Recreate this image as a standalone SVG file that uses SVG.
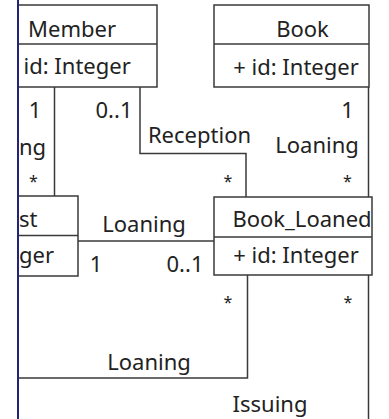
<svg xmlns="http://www.w3.org/2000/svg" width="389" height="419" viewBox="0 0 389 419">
<style>
.box{fill:#ffffff;stroke:#3a3a3a;stroke-width:1.5}
.ln{fill:none;stroke:#3a3a3a;stroke-width:1.5}
text{font-family:"Noto Sans","Open Sans","DejaVu Sans",sans-serif;font-size:22px;fill:#222222}
.m{text-anchor:middle}
.s{font-size:16px}
</style>
<rect width="389" height="419" fill="#ffffff"/>
<g id="connectors">
<path class="ln" d="M54.5 87 V196"/>
<path class="ln" d="M140 87 V153.5 H246 V197"/>
<path class="ln" d="M368.5 87 V197"/>
<path class="ln" d="M78 241 H214"/>
<path class="ln" d="M247.5 275 V378 H19"/>
<path class="ln" d="M368.5 275 V419"/>
<text x="35" y="118" class="m">1</text>
<text x="114" y="118" class="m">0..1</text>
<text x="19" y="155">ng</text>
<text x="33.5" y="187" class="m s">*</text>
<text x="199.5" y="143" class="m">Reception</text>
<text x="228" y="187" class="m s">*</text>
<text x="347.5" y="118" class="m">1</text>
<text x="317" y="153" class="m">Loaning</text>
<text x="347.5" y="187" class="m s">*</text>
<text x="144" y="232" class="m">Loaning</text>
<text x="96" y="272" class="m">1</text>
<text x="185" y="272" class="m">0..1</text>
<text x="228" y="308" class="m s">*</text>
<text x="348" y="308" class="m s">*</text>
<text x="149" y="370" class="m">Loaning</text>
<text x="270" y="412" class="m">Issuing</text>
</g>
<g id="member">
<path class="box" d="M19 5 H157 V87 H19"/>
<path class="ln" d="M19 44 H157"/>
<text x="72" y="37" class="m">Member</text>
<text x="23.5" y="74">id: Integer</text>
</g>
<g id="book">
<rect class="box" x="214" y="5" width="155" height="82"/>
<path class="ln" d="M214 44 H369"/>
<text x="302.5" y="37" class="m">Book</text>
<text x="296" y="75" class="m">+ id: Integer</text>
</g>
<g id="left-class">
<path class="box" d="M19 196 H78 V276 H19"/>
<path class="ln" d="M19 235.5 H78"/>
<text x="19" y="227">st</text>
<text x="19" y="263">ger</text>
</g>
<g id="book-loaned">
<rect class="box" x="214" y="197" width="158" height="78"/>
<path class="ln" d="M214 237 H372"/>
<text x="302" y="227" class="m">Book_Loaned</text>
<text x="296" y="263" class="m">+ id: Integer</text>
</g>
<rect x="17" y="0" width="2" height="419" fill="#23237a"/>
</svg>
